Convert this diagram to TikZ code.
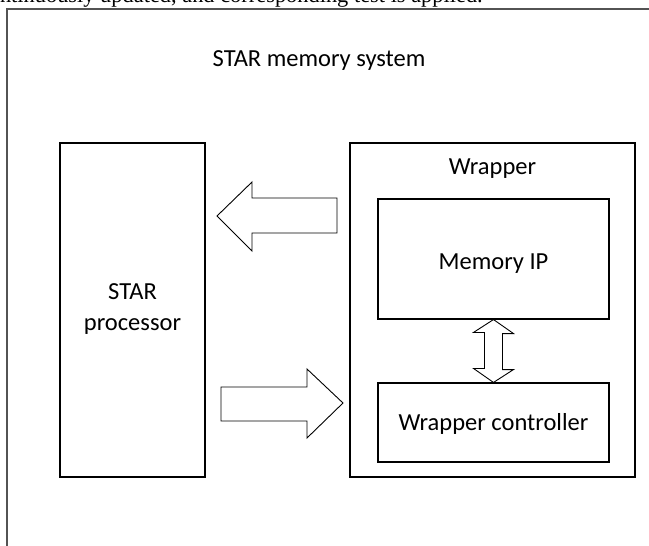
\documentclass[tikz,border=0pt]{standalone}
\usepackage{fontspec}
\setmainfont{Carlito}
\newfontfamily\leadserif{Liberation Serif}
\begin{document}
\begin{tikzpicture}[x=1pt,y=-1pt,
  blockbox/.style={draw=black,line width=1.1pt,inner sep=0pt},
  fatarrow/.style={draw=black,line width=0.9pt,fill=white,line join=miter},
  lbl/.style={font=\fontsize{24.5}{31}\selectfont,anchor=base,inner sep=0pt}]
\useasboundingbox (0,0) rectangle (649,546);
\clip (0,0) rectangle (649,546);
\fill[white] (0,0) rectangle (649,546);

% line of running text above the figure frame
\node[font=\leadserif\fontsize{22.4}{26}\selectfont,anchor=base east,inner sep=0pt]
  (lead) at (483,2) {ntinuously updated, and corresponding test is applied.};

% figure frame
\draw[gray!65!black,line width=1.6pt] (7,9) rectangle (700,600);

\node[lbl] (title) at (319,66) {STAR memory system};

% blocks
\node[blockbox,minimum width=145pt,minimum height=334pt] (proc) at (132.5,310) {};
\node[lbl,align=center] (proctext) at (132.5,330) {STAR\\processor};

\node[blockbox,minimum width=285pt,minimum height=334pt] (wrap) at (492.5,310) {};
\node[lbl] (wraptext) at (492.5,174) {Wrapper};

\node[blockbox,minimum width=231pt,minimum height=120pt] (mem) at (493.5,259) {};
\node[lbl] (memtext) at (493.5,269) {Memory IP};

\node[blockbox,minimum width=231pt,minimum height=79pt] (ctrl) at (493.5,422.5) {};
\node[lbl] (ctrltext) at (493.5,430) {Wrapper controller};

% block arrows between processor and wrapper
\draw[fatarrow] (217,216) -- (252,182) -- (252,198) -- (337,198) -- (337,233)
  -- (252,233) -- (252,251) -- cycle;
\draw[fatarrow] (221,387) -- (307,387) -- (307,369) -- (343,403) -- (307,438)
  -- (307,421) -- (221,421) -- cycle;

% two-way arrow between memory and controller
\draw[fatarrow] (mem.south) -- ++(20,14) -- ++(-11,0) -- ++(0,36) -- ++(11,0)
  -- (ctrl.north) -- ++(-20,-14) -- ++(11,0) -- ++(0,-36) -- ++(-11,0) -- cycle;
\end{tikzpicture}
\end{document}
